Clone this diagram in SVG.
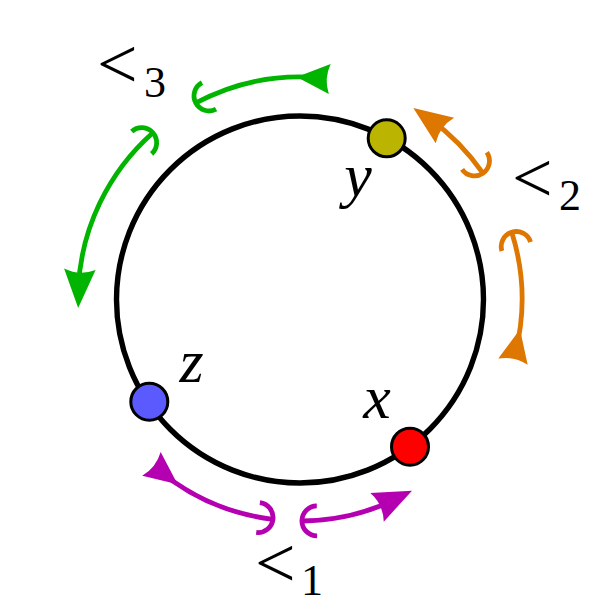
<svg xmlns="http://www.w3.org/2000/svg" xmlns:xlink="http://www.w3.org/1999/xlink" width="600" height="614" viewBox="0 0 600 614">
<style>
.arc{fill:none;stroke-width:4.8}
.hook{fill:none;stroke-width:4.8}
.g{stroke:#00b400;fill:#00b400}
.o{stroke:#de7700;fill:#de7700}
.m{stroke:#b400b0;fill:#b400b0}
.head{stroke:none}
.node{stroke:#000;stroke-width:3}
.var{font-family:"Liberation Serif",serif;font-style:italic;font-size:62px;fill:#000}
.rel{font-family:"Liberation Serif",serif;font-size:72px;fill:#000}
.sub{font-family:"Liberation Serif",serif;font-size:44px;fill:#000}
</style>
<defs>
<path id="fccw" d="M222,0 L234.5,40 Q219.4,31.8 203.1,37.2 Z"/>
<path id="rcw" d="M219.6,-33 L237,-1.1 Q221.6,-6 207,1.1 Z"/>
<path id="h1" d="M207,15 A15 15 0 0 1 237,15"/>
<path id="h2" d="M207,-15 A15 15 0 0 0 237,-15"/>
</defs>
<rect width="600" height="614" fill="#fff"/>
<g id="ring">
<circle cx="300" cy="299.5" r="183.5" fill="none" stroke="#000" stroke-width="5.4"/>
</g>
<g id="connectors">
<g id="order3" class="g">
<use xlink:href="#h2" class="hook" transform="translate(300 299) rotate(228.5)"/>
<circle class="arc" r="222" pathLength="360" stroke-dasharray="45.8 720" transform="translate(300 299) rotate(182.7)"/>
<use xlink:href="#fccw" class="head" transform="translate(300 299) rotate(177.7)"/>
<use xlink:href="#h1" class="hook" transform="translate(300 299) rotate(242)"/>
<circle class="arc" r="222" pathLength="360" stroke-dasharray="33.7 720" transform="translate(300 299) rotate(242)"/>
<use xlink:href="#rcw" class="head" transform="translate(300 299) rotate(277.7)"/>
</g>
<g id="order2" class="o">
<use xlink:href="#h2" class="hook" transform="translate(300 299) rotate(325.5)"/>
<circle class="arc" r="222" pathLength="360" stroke-dasharray="19.8 720" transform="translate(300 299) rotate(305.7)"/>
<use xlink:href="#fccw" class="head" transform="translate(300 299) rotate(300.7)"/>
<use xlink:href="#h1" class="hook" transform="translate(300 299) rotate(342.5)"/>
<circle class="arc" r="222" pathLength="360" stroke-dasharray="31.9 720" transform="translate(300 299) rotate(342.5)"/>
<use xlink:href="#rcw" class="head" transform="translate(300 299) rotate(16.4)"/>
</g>
<g id="order1" class="m">
<use xlink:href="#h2" class="hook" transform="translate(300 299) rotate(89.5)"/>
<circle class="arc" r="222" pathLength="360" stroke-dasharray="24.8 720" transform="translate(300 299) rotate(64.7)"/>
<use xlink:href="#fccw" class="head" transform="translate(300 299) rotate(59.7)"/>
<use xlink:href="#h1" class="hook" transform="translate(300 299) rotate(97)"/>
<circle class="arc" r="222" pathLength="360" stroke-dasharray="33 720" transform="translate(300 299) rotate(97)"/>
<use xlink:href="#rcw" class="head" transform="translate(300 299) rotate(132)"/>
</g>
</g>
<g id="node-y">
<circle class="node" cx="386.7" cy="138.3" r="18.5" fill="#bbb400"/>
<text class="var" x="358" y="196" text-anchor="middle">y</text>
</g>
<g id="node-x">
<circle class="node" cx="410" cy="446.7" r="18.5" fill="#ff0000"/>
<text class="var" x="377" y="418" text-anchor="middle">x</text>
</g>
<g id="node-z">
<circle class="node" cx="149.3" cy="401.7" r="18.5" fill="#5a5aff"/>
<text class="var" x="191.5" y="382" text-anchor="middle">z</text>
</g>
<g id="label-3">
<text class="rel" x="97" y="88">&lt;</text>
<text class="sub" x="144" y="97">3</text>
</g>
<g id="label-2">
<text class="rel" x="512" y="202">&lt;</text>
<text class="sub" x="559" y="210">2</text>
</g>
<g id="label-1">
<text class="rel" x="255" y="587">&lt;</text>
<text class="sub" x="301" y="595">1</text>
</g>
</svg>
